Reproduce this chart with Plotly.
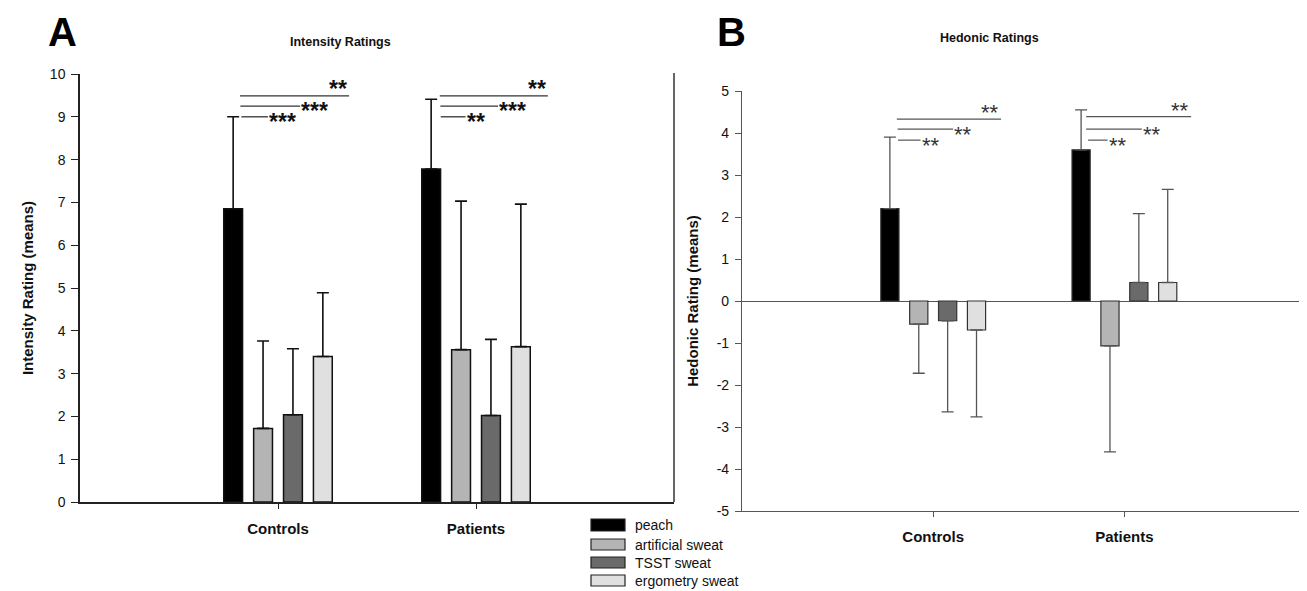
import plotly.graph_objects as go

OFF = 8  # default page body margin
W, H = 1307 - OFF, 591 - OFF

groups = ["Controls", "Patients"]
odors = ["peach", "artificial sweat", "TSST sweat", "ergometry sweat"]
colors = ["#000000", "#b4b4b4", "#6a6a6a", "#e0e0e0"]

# Intensity ratings (means) and SD, [Controls, Patients]
int_peach = [6.85, 7.78]
int_art = [1.72, 3.56]
int_tsst = [2.04, 2.02]
int_ergo = [3.40, 3.63]
int_peach_sd = [2.15, 1.63]
int_art_sd = [2.04, 3.47]
int_tsst_sd = [1.54, 1.78]
int_ergo_sd = [1.49, 3.33]

# Hedonic ratings (means) and SD
hed_peach = [2.20, 3.60]
hed_art = [-0.55, -1.07]
hed_tsst = [-0.47, 0.44]
hed_ergo = [-0.69, 0.44]
hed_peach_sd = [1.70, 0.95]
hed_art_sd = [1.17, 2.52]
hed_tsst_sd = [2.17, 1.64]
hed_ergo_sd = [2.07, 2.22]

# tick labels
int_ticks = [0, 1, 2, 3, 4, 5, 6, 7, 8, 9, 10]
hed_ticks = [-5, -4, -3, -2, -1, 0, 1, 2, 3, 4, 5]
hed_ticklabels = ["-5", "-4", "-3", "-2", "-1", "0", "1", "2", "3", "4", "5"]

# significance labels per group (bottom, middle, top bracket)
int_sig = [["***", "***", "**"], ["**", "***", "**"]]
hed_sig = [["**", "**", "**"], ["**", "**", "**"]]
int_sig_y = [[9.0, 9.25, 9.49], [9.0, 9.25, 9.49]]
hed_sig_y = [[3.83, 4.09, 4.33], [3.83, 4.09, 4.39]]

int_means = [int_peach, int_art, int_tsst, int_ergo]
int_sds = [int_peach_sd, int_art_sd, int_tsst_sd, int_ergo_sd]
hed_means = [hed_peach, hed_art, hed_tsst, hed_ergo]
hed_sds = [hed_peach_sd, hed_art_sd, hed_tsst_sd, hed_ergo_sd]

FONT = "Liberation Sans, Arial, sans-serif"


def px(x):
    return (x - OFF) / W


def py(y):
    return 1 - (y - OFF) / H


fig = go.Figure()
xs = [0, 1]
for i in range(4):
    fig.add_trace(go.Bar(
        x=xs, y=int_means[i], name=odors[i], showlegend=False,
        marker=dict(color=colors[i], line=dict(color="#111111", width=1.5)),
        error_y=dict(type="data", symmetric=False, array=int_sds[i],
                     arrayminus=[0, 0], color="#111111", thickness=1.6, width=6),
        xaxis="x", yaxis="y"))
for i in range(4):
    plus = [s if m >= 0 else 0 for m, s in zip(hed_means[i], hed_sds[i])]
    minus = [s if m < 0 else 0 for m, s in zip(hed_means[i], hed_sds[i])]
    fig.add_trace(go.Bar(
        x=xs, y=hed_means[i], name=odors[i], showlegend=False,
        marker=dict(color=colors[i], line=dict(color="#333333", width=1.2)),
        error_y=dict(type="data", symmetric=False, array=plus, arrayminus=minus,
                     color="#555555", thickness=1.3, width=6),
        xaxis="x2", yaxis="y2"))

tickfont = dict(family=FONT, size=14, color="#111111")
catfont = dict(family=FONT, size=15, color="#111111", weight="bold")

fig.update_layout(
    template="none",
    width=W, height=H, margin=dict(l=0, r=0, t=0, b=0, pad=0, autoexpand=False),
    showlegend=False,
    paper_bgcolor="white", plot_bgcolor="white",
    barmode="group", bargap=0.396, bargroupgap=0.37,
    font=dict(family=FONT),
    xaxis=dict(domain=[px(80), px(674)], range=[-1, 2], tickvals=xs, ticktext=groups,
               automargin=False,
               showline=True, linecolor="#222222", linewidth=1.5, ticks="outside",
               ticklen=5, tickcolor="#222222", showgrid=False, zeroline=False,
               tickfont=catfont, ticklabelstandoff=7, fixedrange=True),
    yaxis=dict(domain=[py(502), py(74)], range=[0, 10], tickvals=int_ticks,
               automargin=False,
               showline=True, linecolor="#222222", linewidth=1.5, ticks="outside",
               ticklen=7, tickcolor="#222222", showgrid=False, zeroline=False,
               tickfont=tickfont, ticklabelstandoff=3,
               title=dict(text="Intensity Rating (means)", standoff=13,
                          font=dict(family=FONT, size=15, color="#111111", weight="bold"))),
    xaxis2=dict(domain=[px(742), 1], range=[-1, 1.955], tickvals=xs, ticktext=groups,
                automargin=False,
                anchor="y2", showline=True, linecolor="#555555", linewidth=1.2,
                ticks="outside", ticklen=5, tickcolor="#555555", showgrid=False,
                zeroline=False, tickfont=catfont, ticklabelstandoff=7),
    yaxis2=dict(domain=[py(511), py(91)], range=[-5, 5], tickvals=hed_ticks,
                ticktext=hed_ticklabels,
                automargin=False,
                anchor="x2", showline=True, linecolor="#555555", linewidth=1.2,
                ticks="outside", ticklen=6, tickcolor="#555555", showgrid=False,
                zeroline=True, zerolinecolor="#555555", zerolinewidth=1.2,
                tickfont=tickfont, ticklabelstandoff=3,
                title=dict(text="Hedonic Rating (means)", standoff=14,
                           font=dict(family=FONT, size=15, color="#111111", weight="bold"))),
)

shapes = []
annots = []

# significance brackets (x offsets relative to group centre)
int_start = [[-0.185, -0.19, -0.192], [-0.178, -0.18, -0.183]]
int_end = [[-0.051, 0.112, 0.359], [-0.053, 0.111, 0.363]]
hed_start = [[-0.184, -0.186, -0.19], [-0.19, -0.2, -0.2]]
hed_end = [[-0.066, 0.104, 0.355], [-0.088, 0.091, 0.349]]


def add_sig(xref, yref, starts, ends, ys, labels, color, lw, bold):
    for g in range(2):
        for k in range(3):
            x0 = g + starts[g][k]
            x1 = g + ends[g][k]
            y = ys[g][k]
            shapes.append(dict(type="line", xref=xref, yref=yref, x0=x0, x1=x1,
                               y0=y, y1=y, line=dict(color=color, width=lw)))
            f = dict(family=FONT, size=23 if bold else 22,
                     color="#111111" if bold else "#333333",
                     weight="bold" if bold else "normal")
            if k == 2:
                annots.append(dict(xref=xref, yref=yref, x=x1, y=y, text=labels[g][k],
                                   showarrow=False, xanchor="right", yanchor="bottom",
                                   yshift=-8, font=f))
            else:
                annots.append(dict(xref=xref, yref=yref, x=x1, y=y, text=labels[g][k],
                                   showarrow=False, xanchor="left", yanchor="middle",
                                   xshift=-1, yshift=-5, font=f))


add_sig("x", "y", int_start, int_end, int_sig_y, int_sig, "#333333", 1.3, True)
add_sig("x2", "y2", hed_start, hed_end, hed_sig_y, hed_sig, "#555555", 1.2, False)

# frame fragment right of panel A
shapes.append(dict(type="line", xref="paper", yref="paper", x0=px(674), x1=px(674),
                   y0=py(73), y1=py(502), line=dict(color="#333333", width=1.5)))

# legend
leg_rows = [(519, 531), (539, 550), (557, 568), (575, 586)]
for i, (t, b) in enumerate(leg_rows):
    shapes.append(dict(type="rect", xref="paper", yref="paper", x0=px(591), x1=px(625),
                       y0=py(b), y1=py(t), fillcolor=colors[i],
                       line=dict(color="#222222", width=1.2)))
    annots.append(dict(xref="paper", yref="paper", x=px(633), y=py((t + b) / 2),
                       text=odors[i], showarrow=False, xanchor="left", yanchor="middle",
                       font=dict(family=FONT, size=14, color="#111111")))

# panel letters and titles
annots.append(dict(xref="paper", yref="paper", x=px(46), y=py(8), text="A",
                   showarrow=False, xanchor="left", yanchor="top",
                   font=dict(family=FONT, size=40, color="#000000", weight="bold")))
annots.append(dict(xref="paper", yref="paper", x=px(715), y=py(8), text="B",
                   showarrow=False, xanchor="left", yanchor="top",
                   font=dict(family=FONT, size=40, color="#000000", weight="bold")))
annots.append(dict(xref="paper", yref="paper", x=px(340), y=py(42), text="Intensity Ratings",
                   showarrow=False, xanchor="center", yanchor="middle",
                   font=dict(family=FONT, size=12.5, color="#111111", weight="bold")))
annots.append(dict(xref="paper", yref="paper", x=px(989), y=py(38), text="Hedonic Ratings",
                   showarrow=False, xanchor="center", yanchor="middle",
                   font=dict(family=FONT, size=12.5, color="#111111", weight="bold")))

fig.update_layout(shapes=shapes, annotations=annots)
fig.write_html("out.html")
